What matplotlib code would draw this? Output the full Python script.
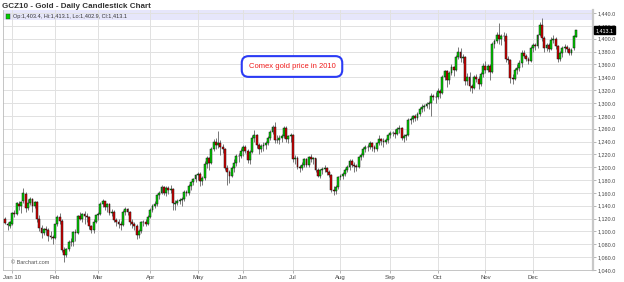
import matplotlib
matplotlib.use("Agg")
import matplotlib.pyplot as plt
from matplotlib.patches import Rectangle
import numpy as np
import pandas as pd

plt.rcParams['font.family'] = ['Liberation Sans', 'DejaVu Sans']

# exchange holidays (no candle)
holidays = ['2010-01-01', '2010-01-18', '2010-02-15', '2010-04-02', '2010-05-31',
            '2010-07-05', '2010-09-06', '2010-11-25', '2010-12-24']

month_labels = ['Jan 10', 'Feb', 'Mar', 'Apr', 'May', 'Jun',
                'Jul', 'Aug', 'Sep', 'Oct', 'Nov', 'Dec']

# GCZ10 daily OHLC (Dec 29 2009 .. Dec 29 2010)
open_ = [1119, 1112, 1108,
         1112, 1128, 1127, 1143, 1139, 1147, 1159, 1136, 1145, 1150, 1139, 1146, 1119, 1105, 1098, 1104, 1102, 1093, 1092,
         1090, 1111, 1123, 1117, 1071, 1064, 1072, 1084, 1083, 1099, 1098, 1124, 1120, 1127, 1124, 1122, 1108, 1103, 1115,
         1125, 1127, 1143, 1147, 1138, 1142, 1129, 1131, 1118, 1114, 1112, 1110, 1131, 1135, 1130, 1114, 1111, 1109, 1095, 1100, 1114, 1115, 1112,
         1123, 1134, 1140, 1142, 1156, 1160, 1169, 1160, 1168, 1165, 1166, 1143, 1145, 1148, 1149, 1151, 1162, 1160, 1171, 1177, 1181,
         1188, 1190, 1178, 1183, 1205, 1214, 1207, 1228, 1240, 1235, 1238, 1232, 1228, 1199, 1192, 1186, 1199, 1206, 1217, 1218,
         1225, 1231, 1226, 1211, 1224, 1246, 1250, 1234, 1228, 1233, 1234, 1237, 1245, 1255, 1262, 1243, 1242, 1246, 1249, 1261, 1244, 1248,
         1250, 1212, 1215, 1200, 1198, 1203, 1212, 1203, 1216, 1213, 1214, 1196, 1187, 1195, 1197, 1199, 1193, 1188, 1165, 1163, 1169,
         1184, 1186, 1190, 1196, 1201, 1209, 1204, 1202, 1200, 1216, 1219, 1229, 1231, 1232, 1238, 1231, 1229, 1237, 1244, 1241, 1240, 1242,
         1250, 1253, 1254, 1251, 1259, 1261, 1246, 1249, 1250, 1273, 1275, 1279, 1276, 1283, 1290, 1294, 1296, 1299, 1300, 1311, 1309,
         1310, 1319, 1316, 1341, 1349, 1336, 1347, 1356, 1352, 1372, 1380, 1370, 1371, 1334, 1340, 1326, 1324, 1340, 1338, 1330, 1345,
         1358, 1352, 1357, 1348, 1392, 1397, 1406, 1400, 1404, 1405, 1369, 1367, 1339, 1337, 1351, 1354, 1362, 1378, 1373, 1368, 1366,
         1385, 1390, 1389, 1406, 1422, 1401, 1385, 1390, 1384, 1398, 1400, 1388, 1368, 1377, 1385, 1387, 1384, 1378, 1385, 1403.4]

high = [1122, 1115, 1116,
        1130, 1134, 1146, 1147, 1148, 1168, 1161, 1150, 1153, 1152, 1148, 1147, 1126, 1110, 1106, 1108, 1105, 1100, 1095,
        1112, 1125, 1128, 1119, 1076, 1075, 1087, 1090, 1101, 1104, 1126, 1131, 1129, 1132, 1128, 1124, 1110, 1120, 1126,
        1130, 1146, 1150, 1148, 1145, 1144, 1135, 1133, 1121, 1119, 1116, 1133, 1138, 1137, 1132, 1119, 1115, 1111, 1104, 1116, 1118, 1119, 1125,
        1137, 1143, 1147, 1159, 1163, 1172, 1171, 1170, 1170, 1172, 1168, 1149, 1150, 1152, 1153, 1164, 1165, 1174, 1179, 1183, 1190,
        1193, 1192, 1186, 1210, 1218, 1216, 1232, 1244, 1245, 1256, 1243, 1236, 1230, 1203, 1196, 1202, 1212, 1220, 1222, 1230,
        1234, 1234, 1228, 1227, 1250, 1258, 1252, 1237, 1236, 1240, 1241, 1248, 1258, 1266, 1270, 1250, 1250, 1252, 1264, 1264, 1250, 1254,
        1252, 1219, 1218, 1203, 1208, 1214, 1214, 1218, 1220, 1216, 1215, 1198, 1197, 1201, 1203, 1201, 1196, 1190, 1170, 1172, 1186,
        1190, 1193, 1198, 1203, 1213, 1212, 1208, 1205, 1218, 1222, 1231, 1234, 1236, 1241, 1239, 1234, 1240, 1250, 1246, 1245, 1246, 1252,
        1256, 1257, 1260, 1262, 1265, 1262, 1252, 1252, 1276, 1278, 1282, 1283, 1286, 1293, 1298, 1299, 1302, 1303, 1315, 1314, 1317,
        1323, 1321, 1343, 1352, 1351, 1350, 1360, 1358, 1374, 1387, 1385, 1376, 1373, 1346, 1348, 1330, 1344, 1345, 1342, 1348, 1362,
        1366, 1360, 1360, 1395, 1400, 1411, 1424, 1408, 1410, 1409, 1373, 1369, 1345, 1355, 1360, 1367, 1382, 1382, 1376, 1372, 1388,
        1393, 1394, 1408, 1426, 1432, 1404, 1394, 1393, 1402, 1406, 1403, 1390, 1381, 1388, 1391, 1390, 1387, 1386, 1406, 1413.1]

low = [1112, 1103, 1106,
       1110, 1122, 1125, 1133, 1128, 1145, 1130, 1133, 1141, 1131, 1136, 1115, 1100, 1090, 1095, 1094, 1085, 1088, 1080,
       1088, 1108, 1112, 1068, 1053, 1060, 1070, 1077, 1078, 1085, 1096, 1118, 1115, 1112, 1115, 1104, 1098, 1097, 1113,
       1118, 1125, 1138, 1133, 1130, 1125, 1124, 1115, 1108, 1105, 1103, 1108, 1126, 1125, 1110, 1106, 1102, 1088, 1090, 1098, 1108, 1108, 1110,
       1121, 1130, 1136, 1140, 1150, 1158, 1156, 1155, 1159, 1160, 1133, 1134, 1141, 1142, 1139, 1148, 1155, 1157, 1165, 1172, 1177,
       1180, 1170, 1173, 1180, 1198, 1195, 1205, 1226, 1229, 1230, 1219, 1222, 1195, 1172, 1175, 1184, 1192, 1202, 1208, 1214,
       1218, 1222, 1207, 1205, 1222, 1240, 1230, 1221, 1224, 1226, 1229, 1234, 1242, 1251, 1237, 1238, 1236, 1240, 1245, 1240, 1238, 1240,
       1208, 1205, 1197, 1192, 1195, 1200, 1200, 1201, 1208, 1205, 1192, 1184, 1183, 1190, 1192, 1188, 1184, 1162, 1156, 1158, 1166,
       1180, 1182, 1186, 1192, 1195, 1200, 1193, 1194, 1198, 1211, 1216, 1224, 1226, 1229, 1226, 1223, 1226, 1234, 1235, 1232, 1236, 1238,
       1246, 1248, 1246, 1250, 1254, 1242, 1240, 1243, 1248, 1267, 1271, 1272, 1274, 1280, 1286, 1288, 1292, 1290, 1280, 1304, 1300,
       1306, 1308, 1314, 1336, 1325, 1330, 1344, 1342, 1350, 1368, 1363, 1362, 1328, 1328, 1318, 1315, 1322, 1333, 1322, 1326, 1340,
       1346, 1348, 1336, 1346, 1385, 1394, 1392, 1390, 1396, 1364, 1360, 1331, 1330, 1335, 1345, 1349, 1356, 1370, 1365, 1360, 1364,
       1380, 1383, 1385, 1404, 1396, 1380, 1381, 1380, 1382, 1394, 1384, 1364, 1366, 1372, 1379, 1380, 1375, 1374, 1383, 1402.9]

close = [1113, 1110, 1114,
         1128, 1127, 1144, 1140, 1146, 1160, 1136, 1145, 1150, 1139, 1146, 1119, 1105, 1098, 1104, 1102, 1093, 1092, 1090,
         1111, 1123, 1117, 1071, 1064, 1072, 1084, 1083, 1099, 1098, 1124, 1120, 1127, 1124, 1122, 1108, 1103, 1115, 1125,
         1127, 1143, 1147, 1138, 1142, 1129, 1131, 1118, 1114, 1112, 1110, 1131, 1135, 1130, 1114, 1111, 1109, 1095, 1100, 1114, 1115, 1112, 1123,
         1134, 1140, 1142, 1156, 1160, 1169, 1160, 1168, 1165, 1166, 1144, 1145, 1148, 1149, 1151, 1162, 1160, 1171, 1177, 1181, 1188,
         1190, 1178, 1183, 1205, 1214, 1207, 1228, 1240, 1235, 1238, 1232, 1228, 1199, 1192, 1186, 1199, 1206, 1217, 1218, 1225,
         1231, 1226, 1211, 1224, 1246, 1250, 1234, 1228, 1233, 1234, 1237, 1245, 1255, 1262, 1243, 1242, 1246, 1249, 1261, 1244, 1248, 1250,
         1212, 1215, 1200, 1198, 1203, 1212, 1203, 1216, 1213, 1214, 1196, 1187, 1195, 1197, 1199, 1193, 1188, 1165, 1163, 1169, 1184,
         1186, 1190, 1196, 1201, 1209, 1204, 1202, 1200, 1216, 1219, 1229, 1231, 1232, 1238, 1231, 1229, 1237, 1244, 1241, 1240, 1242, 1250,
         1253, 1254, 1251, 1259, 1261, 1246, 1249, 1250, 1273, 1275, 1279, 1276, 1283, 1290, 1294, 1296, 1299, 1300, 1311, 1309, 1310,
         1319, 1316, 1341, 1349, 1336, 1347, 1356, 1352, 1372, 1380, 1370, 1371, 1334, 1340, 1326, 1324, 1340, 1338, 1330, 1345, 1358,
         1352, 1357, 1348, 1392, 1397, 1406, 1400, 1404, 1405, 1369, 1367, 1339, 1337, 1351, 1354, 1362, 1378, 1373, 1368, 1366, 1385,
         1390, 1389, 1406, 1422, 1401, 1385, 1390, 1384, 1398, 1400, 1388, 1368, 1377, 1385, 1387, 1384, 1378, 1383, 1404, 1413.1]

last_label = 'Op:1,403.4, Hi:1,413.1, Lo:1,402.9, Cl:1,413.1'

dates = pd.bdate_range('2009-12-29', '2010-12-29')
dates = dates[~dates.isin(pd.to_datetime(holidays))]
o = np.array(open_)
h = np.array(high)
l = np.array(low)
c = np.array(close)
n_pre = int((dates.year == 2009).sum())
x = np.arange(len(dates)) - n_pre

# first trading day of each month -> tick positions
month_pos = [x[np.argmax((dates.year == 2010) & (dates.month == m))] for m in range(1, 13)]

fig = plt.figure(figsize=(6.24, 2.82), dpi=100)
ax = fig.add_axes([3 / 624, 12 / 282, 590 / 624, 260 / 282])

ax.axhspan(1429, 1445, color='#e6e6fb', zorder=0.5, lw=0)

up = c >= o
cols = np.where(up, '#00d400', '#d80000')
ax.vlines(x, l, h, color='#6e6e6e', lw=0.65, zorder=2)
ax.bar(x, np.maximum(np.abs(c - o), 0.8), bottom=np.minimum(o, c), width=0.82,
       color=cols, edgecolor='#111111', linewidth=0.35, zorder=3)

ax.set_xlim(-4, 256.5)
ax.set_ylim(1040, 1444.7)

yt = np.arange(1040, 1441, 20)
ax.yaxis.tick_right()
ax.set_yticks(yt)
ax.set_yticklabels([f'{v:,.1f}' for v in yt])
ax.set_xticks(month_pos)
ax.set_xticklabels(month_labels)
ax.tick_params(axis='y', labelsize=3.9, length=2.5, width=0.5, color='#999999', pad=1, labelcolor='#444444')
ax.tick_params(axis='x', labelsize=4.3, length=2, width=0.5, color='#999999', pad=1.5, labelcolor='#444444')

ax.grid(color='#e1e1e1', lw=0.7, zorder=0)
ax.set_axisbelow(True)
ax.spines['top'].set_visible(False)
ax.spines['left'].set_color('#bbbbbb')
ax.spines['left'].set_linewidth(0.6)
ax.spines['bottom'].set_color('#bbbbbb')
ax.spines['bottom'].set_linewidth(0.6)
ax.spines['right'].set_color('#c8c8c8')
ax.spines['right'].set_linewidth(1.6)

# last price tag on the right axis
ax.annotate(f'{close[-1]:,.1f}', xy=(1.004, close[-1]), xycoords=('axes fraction', 'data'),
            fontsize=3.9, color='white', va='center', ha='left', annotation_clip=False,
            bbox=dict(boxstyle='square,pad=0.25', fc='black', ec='black'))

fig.text(2 / 624, 1 - 6 / 282, 'GCZ10 - Gold - Daily Candlestick Chart', fontsize=5.8,
         fontweight='bold', color='#333333', va='center', ha='left')
fig.patches.append(Rectangle((6 / 624, 1 - 18.5 / 282), 4 / 624, 4 / 282, transform=fig.transFigure,
                             fc='#00cc00', ec='#333333', lw=0.3))
fig.text(13 / 624, 1 - 16.5 / 282, last_label, fontsize=4.0, color='#333333', va='center', ha='left')

fig.text(292 / 624, 1 - 66.5 / 282, 'Comex gold price in 2010', fontsize=5.5, color='#ee1c1c',
         ha='center', va='center',
         bbox=dict(boxstyle='round,pad=0.9,rounding_size=0.9', fc='white', ec='#2b3bf5', lw=1.5))

ax.text(0.014, 0.027, '\u00a9 Barchart.com', transform=ax.transAxes, fontsize=4, color='#555555',
        va='center', ha='left')

fig.savefig('out.png', dpi=100)
